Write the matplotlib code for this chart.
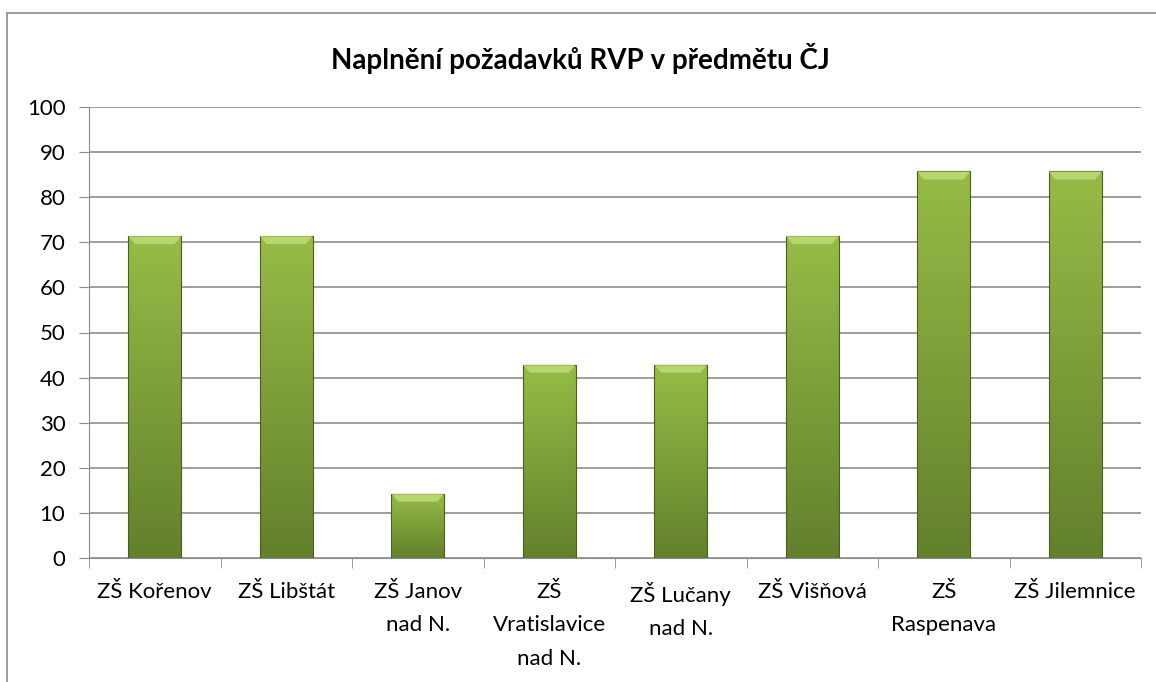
import numpy as np
import matplotlib.pyplot as plt
from matplotlib.patches import Rectangle

plt.rcParams['font.family'] = ['Lato', 'DejaVu Sans']

skoly = ["ZŠ Kořenov", "ZŠ Libštát", "ZŠ Janov\nnad N.", "ZŠ\nVratislavice\nnad N.",
         "ZŠ Lučany\nnad N.", "ZŠ Višňová", "ZŠ\nRaspenava", "ZŠ Jilemnice"]
hodnoty = [71.4, 71.4, 14.3, 42.9, 42.9, 71.4, 85.7, 85.7]
yticks = [0, 10, 20, 30, 40, 50, 60, 70, 80, 90, 100]

W, H = 1156, 682
fig = plt.figure(figsize=(W / 100, H / 100), dpi=100)

# ramecek grafu (presahuje obrazek vpravo a dole)
fig.patches.append(Rectangle((7 / W, -0.05), 1.2, 1 - 13 / H + 0.05, transform=fig.transFigure,
                             fill=False, edgecolor='#8c8c8c', linewidth=1.2))

ax = fig.add_axes([89 / W, 1 - 558 / H, (1141 - 89) / W, (558 - 107) / H])
x = np.arange(len(skoly))
bars = ax.bar(x, hodnoty, width=0.4, color='none', edgecolor='#4a5e22', linewidth=0.8, zorder=3)

# gradient v kazdem sloupci
grad = np.linspace(0, 1, 256).reshape(-1, 1)
top = np.array([150, 188, 70]) / 255
bot = np.array([98, 128, 44]) / 255
img = (bot + (top - bot) * grad[:, :, None] * np.ones((1, 1, 3)))
for b in bars:
    x0, w, h = b.get_x(), b.get_width(), b.get_height()
    im = ax.imshow(img, extent=[x0, x0 + w, 0, h], origin='lower', aspect='auto', zorder=2)
    im.set_clip_path(b)
    # zkoseni horni hrany
    bev = 1.8
    ax.fill([x0, x0 + w, x0 + w - 0.05, x0 + 0.05], [h, h, h - bev, h - bev],
            color='#c8e282', alpha=0.7, zorder=3, lw=0)

ax.set_xlim(-0.5, len(skoly) - 0.5)
ax.set_ylim(0, 100)
ax.set_yticks(yticks)
ax.tick_params(axis='y', length=7, color='#8c8c8c', labelsize=16, pad=10)
ax.set_xticks(x)
ax.set_xticklabels(skoly, fontsize=16, linespacing=1.85)
ax.tick_params(axis='x', which='major', length=0, pad=17)
ax.set_xticks(np.arange(-0.5, len(skoly)), minor=True)
ax.tick_params(axis='x', which='minor', length=7, color='#8c8c8c')
ax.yaxis.grid(True, color='#8c8c8c', linewidth=1.2, zorder=0)
ax.set_axisbelow(True)
for s in ['top', 'right']:
    ax.spines[s].set_visible(False)
ax.spines['left'].set_color('#8c8c8c')
ax.spines['bottom'].set_color('#8c8c8c')

fig.text(580 / W, 1 - 58 / H, "Naplnění požadavků RVP v předmětu ČJ", ha='center', va='center',
         fontsize=20, fontweight='bold')

fig.savefig("out.png", dpi=100)
